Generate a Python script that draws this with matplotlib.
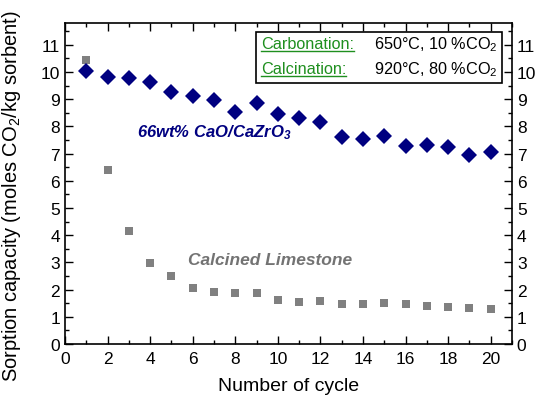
import matplotlib.pyplot as plt
from matplotlib.lines import Line2D
from matplotlib.patches import Rectangle
from matplotlib.ticker import MultipleLocator

plt.rcParams['font.family'] = ['Liberation Sans', 'DejaVu Sans']
plt.rcParams['mathtext.default'] = 'regular'

cycles = list(range(1, 21))
cao_zro = [10.02, 9.80, 9.77, 9.62, 9.25, 9.10, 8.96, 8.52, 8.86, 8.47,
           8.32, 8.17, 7.61, 7.54, 7.66, 7.29, 7.32, 7.24, 6.96, 7.07]
limestone = [10.43, 6.41, 4.17, 2.98, 2.51, 2.07, 1.90, 1.86, 1.86, 1.60,
             1.56, 1.57, 1.46, 1.46, 1.49, 1.46, 1.39, 1.36, 1.31, 1.29]

fig = plt.figure(figsize=(5.42, 4.06), dpi=100)
ax = fig.add_axes([65 / 542, 1 - 345 / 406, 447 / 542, 321 / 406])

ax.plot(cycles, limestone, 's', color='#808080', markersize=6, markeredgewidth=0)
ax.plot(cycles, cao_zro, 'D', color='#000080', markersize=8, markeredgewidth=0)

ax.set_xlim(0, 21)
ax.set_ylim(0, 11.8)
ax.xaxis.set_major_locator(MultipleLocator(2))
ax.xaxis.set_minor_locator(MultipleLocator(1))
ax.yaxis.set_major_locator(MultipleLocator(1))
ax.yaxis.set_minor_locator(MultipleLocator(0.5))
ax.tick_params(which='both', direction='in', top=True, right=True,
               labelright=True, labelsize=12.5, width=1)
ax.tick_params(axis='x', pad=5)
ax.tick_params(which='major', length=6)
ax.tick_params(which='minor', length=3)
for s in ax.spines.values():
    s.set_linewidth(1.2)

ax.set_xlabel('Number of cycle', fontsize=14, labelpad=8)
ax.set_ylabel('Sorption capacity (moles CO$_2$/kg sorbent)', fontsize=14.5)
ax.yaxis.set_label_coords(-0.095, 0.465)

ax.text(3.4, 7.8, '66wt% CaO/CaZrO$_3$', color='#000080', fontsize=12,
        fontweight='bold', fontstyle='italic', va='center')
ax.text(5.8, 3.09, 'Calcined Limestone', color='#737373', fontsize=12.5,
        fontweight='bold', fontstyle='italic', va='center')

# condition box
ax.add_patch(Rectangle((0.427, 0.813), 0.551, 0.159, transform=ax.transAxes,
                       fill=False, edgecolor='black', linewidth=1.2, zorder=5))
green = '#1f8f1f'
labels = []
for yy, name, cond in [(0.935, 'Carbonation:', '650°C, 10 %CO$_2$'),
                       (0.857, 'Calcination:', '920°C, 80 %CO$_2$')]:
    t = ax.text(0.438, yy, name, color=green, fontsize=11.7, va='center',
                transform=ax.transAxes)
    labels.append(t)
    ax.text(0.691, yy, cond, color='black', fontsize=11.7, va='center',
            transform=ax.transAxes)

# underline the green labels
fig.canvas.draw()
r = fig.canvas.get_renderer()
inv = fig.transFigure.inverted()
for t in labels:
    bb = t.get_window_extent(r)
    (x0, y0), (x1, _) = inv.transform([(bb.x0, bb.y0), (bb.x1, bb.y1)])
    fig.add_artist(Line2D([x0, x1], [y0 + 0.002, y0 + 0.002], color=green, linewidth=1))

fig.savefig('out.png', dpi=100)
